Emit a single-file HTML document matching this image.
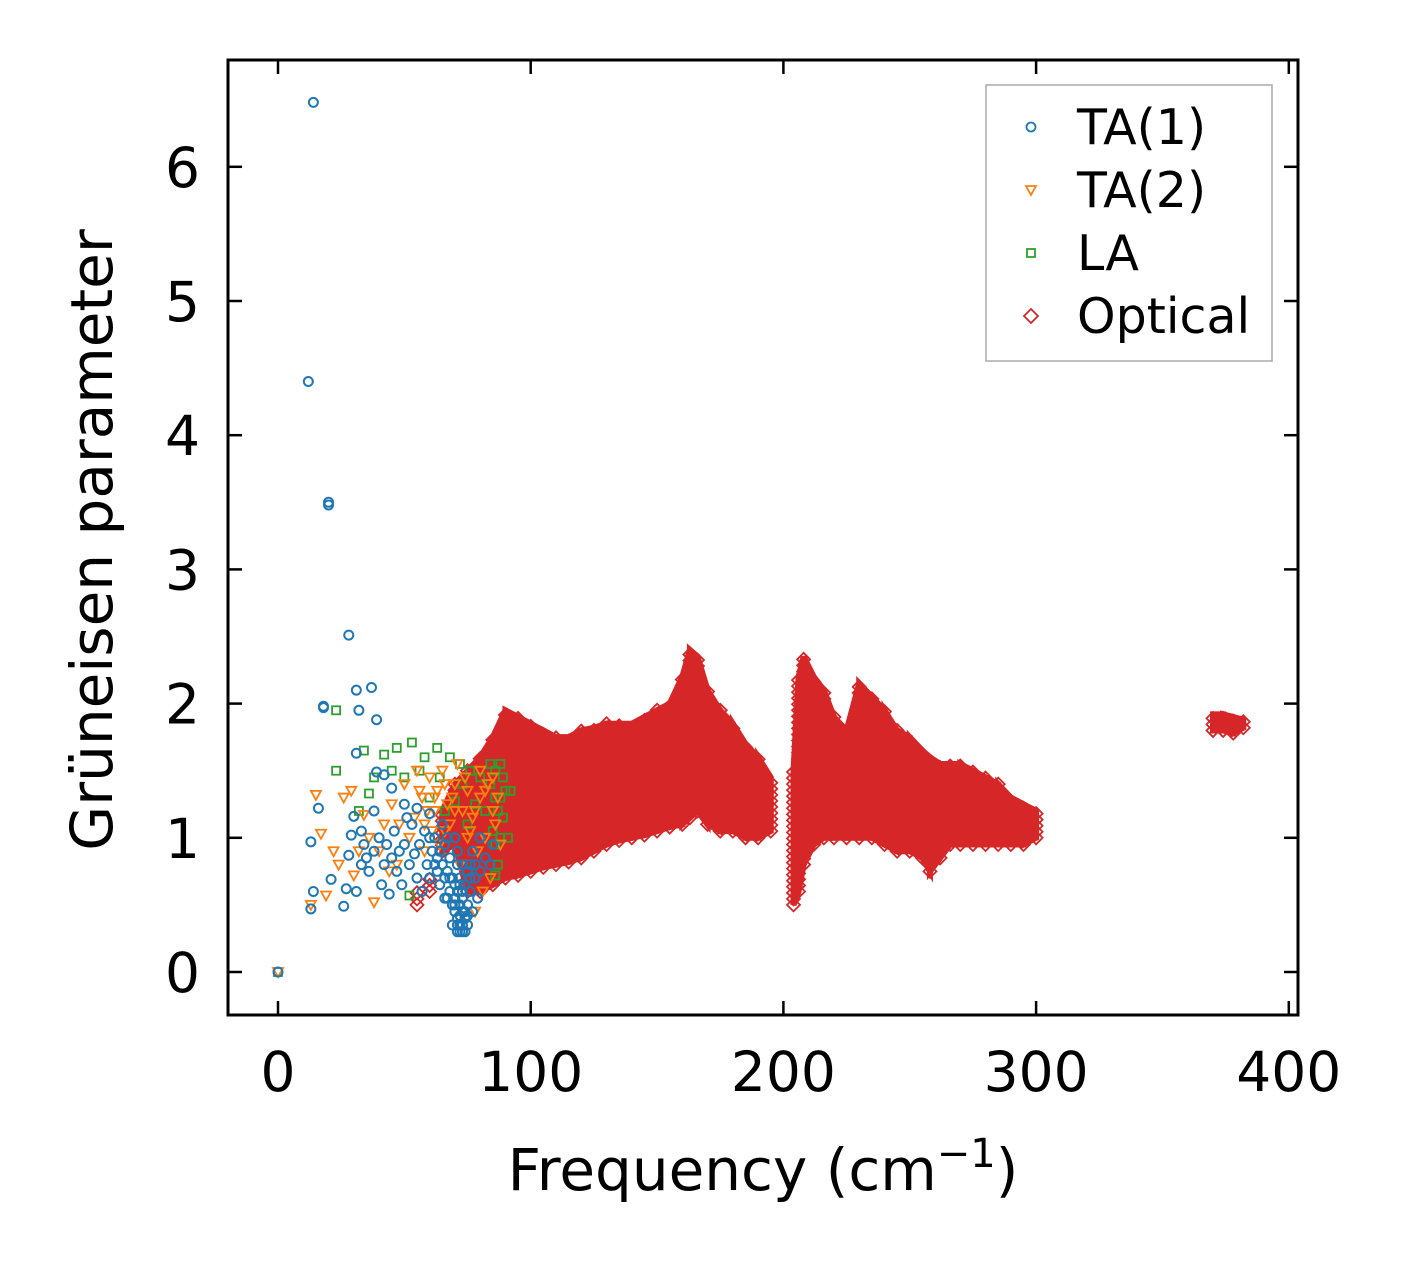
<!DOCTYPE html>
<html><head><meta charset="utf-8"><style>
html,body{margin:0;padding:0;background:#fff;}
svg text{font-family:"DejaVu Sans","Liberation Sans",sans-serif;fill:#000;}
</style></head><body>
<svg id="chart" width="1403" height="1264" viewBox="0 0 1403 1264" xmlns="http://www.w3.org/2000/svg">
<g id="marks"></g>
<rect x="228" y="60" width="1070" height="955" fill="none" stroke="#000" stroke-width="3"/>
<g id="axes"></g>
<text x="763" y="1190" font-size="58" text-anchor="middle">Frequency (cm<tspan dy="-23" font-size="40">−1</tspan><tspan dy="23">)</tspan></text>
<text transform="translate(112,540) rotate(-90)" font-size="58" text-anchor="middle">Grüneisen parameter</text>
<g>
<rect x="986" y="85" width="286" height="276" fill="#fff" stroke="#aaa" stroke-width="1.5"/>
<circle cx="1031" cy="127" r="4.5" fill="none" stroke="#1f77b4" stroke-width="1.8"/>
<text x="1077" y="144" font-size="49">TA(1)</text>
<path d="M1026,186 L1036,186 L1031,195 Z" fill="none" stroke="#ff7f0e" stroke-width="1.8"/>
<text x="1077" y="207" font-size="49">TA(2)</text>
<rect x="1027" y="249" width="8" height="8" fill="none" stroke="#2ca02c" stroke-width="1.8"/>
<text x="1077" y="270" font-size="49">LA</text>
<path d="M1031,309 L1038,316 L1031,323 L1024,316 Z" fill="none" stroke="#d62728" stroke-width="1.8"/>
<text x="1077" y="333" font-size="49">Optical</text>
</g>
</svg>
<script>
const xTicks=[0,100,200,300,400];
const yTicks=[0,1,2,3,4,5,6];
const ta1=[[0,0],[14,6.48],[12,4.4],[20,3.5],[20,3.48],[28,2.51],[31,2.1],[37,2.12],[18,1.98],[18,1.97],[32,1.95],[39,1.88],[31,1.63],[16,1.22],[13,0.97],[14,0.6],[13,0.47],[21,0.69],[26,0.49],[27,0.62],[28,0.87],[29,1.02],[30,1.16],[31,0.6],[33,1.05],[35,0.85],[38,1.2],[39,1.49],[42,1.47],[45,1.37],[50,1.25],[55,1.22],[60,1.18],[41,0.65],[44,0.58],[48,0.9],[52,0.8],[56,0.95],[60,0.7],[65,1.1],[68,0.6],[70,0.45],[72,0.35],[73,0.3],[74,0.4],[75,0.5],[71,0.8],[77,0.9],[80,1.0],[82,0.85],[85,0.95],[67,0.75],[63,0.85],[58,1.05],[54,0.88],[46,1.05],[66,0.95],[69,0.7],[70,0.55],[71,0.4],[72,0.5],[73,0.45],[74,0.3],[75,0.35],[76,0.6],[72,0.65],[68,0.85],[64,0.65],[62,1.0],[59,0.8],[57,0.6],[53,1.1],[50,0.95],[47,0.75],[43,0.95],[40,1.0],[36,0.75],[34,0.95],[78,0.7],[79,0.55],[76,0.8],[70,1.0],[66,0.55],[61,0.9],[55,0.7],[51,1.15],[49,0.65],[45,0.85],[42,0.8],[38,0.9],[33,0.8],[69,0.35],[71,0.3],[73,0.6],[77,0.45],[80,0.75],[84,0.8],[65,0.8],[67,1.0],[63,0.75],[60,1.0],[71,0.35],[72,0.3],[73,0.35],[74,0.45],[70,0.5],[72,0.42],[73,0.55],[75,0.42],[71,0.6],[69,0.5],[72,0.7],[74,0.65],[76,0.7],[70,0.65],[68,0.7],[67,0.55],[78,0.8],[75,0.75],[73,0.8],[71,0.9],[66,0.7],[64,0.9],[62,0.8]];
const ta2=[[0,0],[15,1.32],[17,1.03],[13,0.5],[19,0.57],[22,0.9],[24,0.8],[26,1.3],[29,1.35],[30,0.72],[34,1.17],[38,0.52],[40,0.9],[45,1.25],[50,1.4],[55,1.5],[60,1.45],[65,1.5],[70,1.4],[75,1.35],[80,1.3],[85,1.2],[78,0.45],[62,1.2],[58,0.9],[68,1.1],[72,0.8],[82,1.0],[52,1.0],[48,1.1],[44,0.75],[57,1.3],[63,1.35],[67,1.25],[73,1.2],[77,1.15],[79,0.9],[83,1.4],[86,1.1],[88,0.95],[54,1.15],[61,1.05],[66,1.4],[71,1.55],[76,1.05],[81,0.6],[84,0.7],[59,1.2],[47,0.8],[42,1.1],[36,1.0],[32,0.9],[69,1.3],[74,1.45],[64,0.95],[56,1.35],[80,1.5],[87,1.3],[75,1.0],[78,1.2],[82,1.35],[85,1.45],[70,1.2],[66,1.05],[62,1.3],[58,1.1]];
const la=[[0,0],[23,1.95],[23,1.5],[34,1.65],[36,1.33],[32,1.2],[42,1.62],[47,1.67],[53,1.71],[58,1.6],[63,1.67],[68,1.6],[72,1.55],[76,1.5],[80,1.45],[84,1.4],[88,1.3],[90,1.35],[88,1.0],[86,0.95],[52,0.57],[60,1.3],[66,1.2],[70,1.27],[75,1.1],[82,1.2],[86,1.5],[89,1.45],[87,1.2],[85,1.05],[91,1.0],[78,1.25],[73,1.4],[64,1.45],[56,1.5],[50,1.45],[45,1.5],[38,1.45],[92,1.35],[89,1.15],[86,1.3],[84,1.55],[88,1.55],[87,0.8],[86,0.72]];
// optical: [frequency, gamma-low, gamma-high]
const opticalFreq=[55,60,65,70,75,80,85,90,95,100,105,110,115,120,125,130,135,140,145,150,155,160,163,166,170,175,180,185,190,195,204,206,208,212,216,220,225,230,235,240,245,250,255,258,262,266,270,275,280,285,290,295,300,370,374,378,382];
const opticalLow=[0.5,0.6,0.9,0.95,0.6,0.6,0.65,0.7,0.72,0.75,0.78,0.8,0.82,0.85,0.9,0.95,0.98,1.0,1.02,1.05,1.08,1.1,1.15,1.2,1.1,1.05,1.05,1.0,1.0,1.05,0.5,0.6,0.8,0.95,1.0,1.0,1.0,1.0,1.0,0.95,0.9,0.9,0.85,0.75,0.85,0.95,0.95,0.95,0.95,0.95,0.95,0.95,1.0,1.8,1.8,1.78,1.82];
const opticalHigh=[0.6,0.7,1.2,1.4,1.5,1.6,1.75,1.95,1.9,1.85,1.8,1.75,1.75,1.8,1.82,1.85,1.85,1.85,1.9,1.95,2.0,2.2,2.4,2.35,2.1,1.95,1.85,1.7,1.6,1.45,1.5,2.2,2.35,2.2,2.1,1.9,1.8,2.15,2.05,1.95,1.8,1.75,1.65,1.6,1.55,1.55,1.55,1.5,1.45,1.4,1.3,1.25,1.2,1.92,1.92,1.9,1.88];
const X=v=>278+v*2.527, Y=v=>972-v*134.2;
const NS='http://www.w3.org/2000/svg';
const marks=document.getElementById('marks'), axes=document.getElementById('axes');
function mk(tag,attrs,parent){const e=document.createElementNS(NS,tag);for(const k in attrs)e.setAttribute(k,attrs[k]);parent.appendChild(e);return e;}
const og=mk('g',{},marks);


for(let i=0;i<opticalFreq.length-1;i++){
  if(opticalFreq[i+1]-opticalFreq[i]>6) continue;
  if(opticalFreq[i]<62) continue;
  const a=opticalFreq[i],b=opticalFreq[i+1];
  const pts=`${X(a)},${Y(opticalHigh[i])} ${X(b)},${Y(opticalHigh[i+1])} ${X(b)},${Y(opticalLow[i+1])} ${X(a)},${Y(opticalLow[i])}`;
  const p=mk('polygon',{points:pts,fill:'#d62728',stroke:'#d62728','stroke-width':6},og);
  
  
}
for(let i=0;i<opticalFreq.length;i++){
  const x=X(opticalFreq[i]);
  for(let g=opticalLow[i];g<=opticalHigh[i]+1e-6;g+=0.045){
    const y=Y(g);
    const p=mk('path',{d:`M${x},${y-6.5}L${x+6.5},${y}L${x},${y+6.5}L${x-6.5},${y}Z`,fill:'none',stroke:'#d62728','stroke-width':1.8},og);
    
    
  }
}
const lg=mk('g',{},marks);


la.forEach(d=>{const p=mk('rect',{x:X(d[0])-4,y:Y(d[1])-4,width:8,height:8,fill:'none',stroke:'#2ca02c','stroke-width':1.8},lg);

});
const tg=mk('g',{},marks);


ta2.forEach(d=>{const x=X(d[0]),y=Y(d[1]);const p=mk('path',{d:`M${x-5},${y-4}L${x+5},${y-4}L${x},${y+5}Z`,fill:'none',stroke:'#ff7f0e','stroke-width':1.8},tg);

});
const bg=mk('g',{},marks);


ta1.forEach(d=>{const p=mk('circle',{cx:X(d[0]),cy:Y(d[1]),r:4.5,fill:'none',stroke:'#1f77b4','stroke-width':2},bg);

});
xTicks.forEach(t=>{const x=X(t);
mk('line',{x1:x,x2:x,y1:1015,y2:1001,stroke:'#000','stroke-width':2.5},axes);
mk('line',{x1:x,x2:x,y1:60,y2:74,stroke:'#000','stroke-width':2.5},axes);
const tx=mk('text',{x:x,y:1091,'font-size':55,'text-anchor':'middle'},axes);tx.textContent=t;

});
yTicks.forEach(t=>{const y=Y(t);
mk('line',{x1:228,x2:242,y1:y,y2:y,stroke:'#000','stroke-width':2.5},axes);
mk('line',{x1:1298,x2:1284,y1:y,y2:y,stroke:'#000','stroke-width':2.5},axes);
const tx=mk('text',{x:200,y:y+20,'font-size':55,'text-anchor':'end'},axes);tx.textContent=t;

});
</script>
</body></html>
